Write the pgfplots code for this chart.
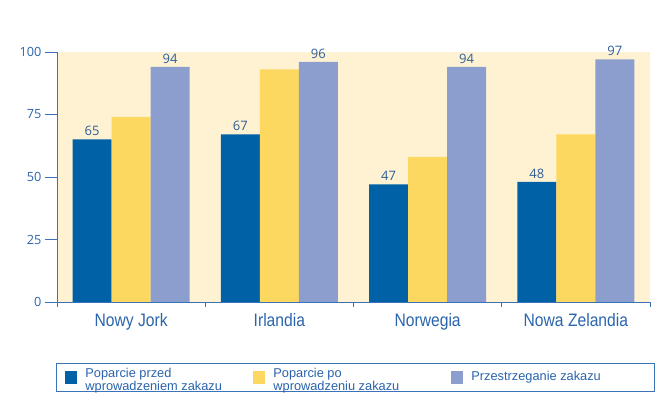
\documentclass[border=0pt]{standalone}
\usepackage{pgfplots}
\pgfplotsset{compat=1.18}
\usepackage{fontspec}
\setmainfont{Liberation Sans}
\newfontfamily\catfont[FakeStretch=0.87]{Liberation Sans}
\newfontfamily\numfont{Open Sans}
\definecolor{cblue}{RGB}{0,97,167}
\definecolor{cyellow}{RGB}{253,216,96}
\definecolor{cpurple}{RGB}{140,158,205}
\definecolor{cbg}{RGB}{254,242,210}
\definecolor{axblue}{RGB}{60,114,184}
\definecolor{txblue}{RGB}{42,100,172}
\definecolor{lblblue}{RGB}{46,94,154}
\newcommand{\legtxt}[2]{\begin{tabular}[c]{@{}p{#1}@{}}#2\end{tabular}}
\begin{document}
\begin{tikzpicture}
\useasboundingbox (0,0) rectangle (669pt,409pt);
\begin{axis}[
  at={(57pt,107pt)}, anchor=south west,
  scale only axis, width=593pt, height=250pt,
  ymin=0, ymax=100, xmin=-0.5, xmax=3.5,
  axis lines=left, axis line style={-, draw=axblue, line width=0.8pt},
  axis background/.style={fill=cbg},
  clip=false,
  ybar=0pt, bar width=39pt,
  ytick={0,25,50,75,100},
  yticklabel style={font=\numfont\fontsize{12.7}{14}\selectfont, text=txblue},
  /pgf/number format/assume math mode=true,
  ytick style={draw=axblue, line width=0.8pt},
  major tick length=12pt, tick align=outside,
  xtick={0,1,2,3},
  xticklabels={Nowy Jork, Irlandia, Norwegia, Nowa Zelandia},
  xticklabel style={font=\catfont\fontsize{18}{20}\selectfont, text=txblue, yshift=4pt},
  major x tick style={draw=none},
  minor xtick={-0.5,0.5,1.5,2.5,3.5},
  minor x tick style={draw=axblue, line width=0.8pt},
  minor tick length=5pt,
  legend columns=3,
  legend cell align=left,
  legend image code/.code={\fill[#1] (0pt,-6.5pt) rectangle (12pt,6.5pt);},
  legend style={at={(-0.0017,-0.244)}, anchor=north west,
    draw=axblue, line width=0.8pt, inner xsep=9pt, inner ysep=3pt,
    font=\fontsize{12.8}{12.5}\selectfont, text=txblue,
    /tikz/every odd column/.append style={column sep=6pt}},
  every node near coord/.append style={font=\numfont\fontsize{13}{14}\selectfont, text=lblblue},
]
\addplot[fill=cblue, draw=none, nodes near coords] coordinates {(0,65) (1,67) (2,47) (3,48)};
\addplot[fill=cyellow, draw=none] coordinates {(0,74) (1,93) (2,58) (3,67)};
\addplot[fill=cpurple, draw=none, nodes near coords] coordinates {(0,94) (1,96) (2,94) (3,97)};
\legend{{\legtxt{166pt}{Poparcie przed\\wprowadzeniem zakazu}\rule[-24pt]{0pt}{0pt}},
        {\legtxt{176pt}{Poparcie po\\wprowadzeniu zakazu}},
        {\legtxt{172pt}{Przestrzeganie zakazu}}}
\end{axis}
\end{tikzpicture}
\end{document}
